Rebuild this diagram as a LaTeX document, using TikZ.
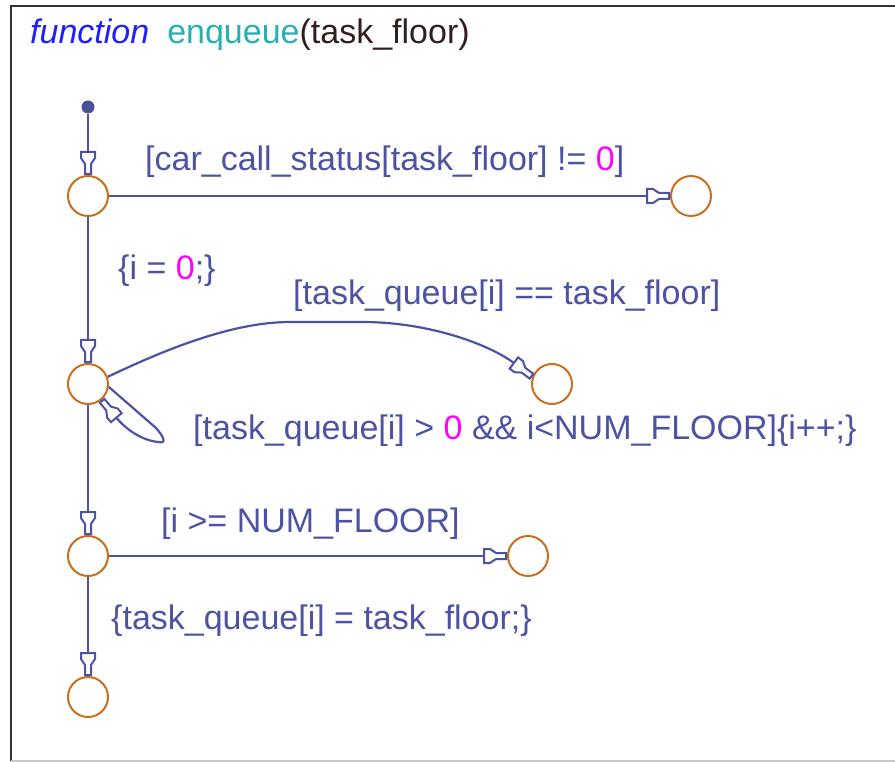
\documentclass[tikz,border=0pt]{standalone}
\usepackage{fontspec}
\setmainfont{Liberation Sans}
\definecolor{lnc}{RGB}{78,82,162}
\definecolor{stc}{RGB}{200,112,32}
\definecolor{mag}{RGB}{255,0,255}
\definecolor{fnc}{RGB}{30,30,255}
\definecolor{enc}{RGB}{40,176,176}
\definecolor{argc}{RGB}{50,30,30}
\definecolor{framec}{RGB}{50,50,50}
\definecolor{dotc}{RGB}{72,80,150}
\pgfdeclarearrow{
  name = Funnel,
  setup code = {
    \pgfarrowssettipend{1pt}
    \pgfarrowssetlineend{-22pt}
    \pgfarrowssetvisualbackend{-23pt}
    \pgfarrowssetbackend{-23pt}
    \pgfarrowshullpoint{1pt}{4pt}
    \pgfarrowshullpoint{1pt}{-4pt}
    \pgfarrowshullpoint{-23pt}{8pt}
    \pgfarrowshullpoint{-23pt}{-8pt}
  },
  drawing code = {
    \pgfsetdash{}{0pt}
    \pgfsetmiterjoin
    \pgfsetlinewidth{2pt}
    \pgfpathmoveto{\pgfpoint{0pt}{3pt}}
    \pgfpathlineto{\pgfpoint{-10pt}{3pt}}
    \pgfpathlineto{\pgfpoint{-16pt}{7pt}}
    \pgfpathlineto{\pgfpoint{-22pt}{7pt}}
    \pgfpathlineto{\pgfpoint{-22pt}{-7pt}}
    \pgfpathlineto{\pgfpoint{-16pt}{-7pt}}
    \pgfpathlineto{\pgfpoint{-10pt}{-3pt}}
    \pgfpathlineto{\pgfpoint{0pt}{-3pt}}
    \pgfpathclose
    \pgfusepathqstroke
  }
}
\tikzset{
  stt/.style={circle, draw=stc, line width=2pt, minimum size=40pt, inner sep=0pt},
  initdot/.style={circle, fill=dotc, minimum size=13pt, inner sep=0pt},
  tr/.style={draw=lnc, line width=2.2pt, -Funnel},
  lbl/.style={text=lnc, font=\fontsize{34}{40}\selectfont, inner sep=0pt, anchor=west},
}
\begin{document}
\begin{tikzpicture}[x=1pt, y=-1pt]
\useasboundingbox (0,0) rectangle (895,762);
% frame
\draw[framec, line width=2.5pt] (11,761) -- (11,6) -- (895,6);
\draw[black!22, line width=1.5pt] (11,761) -- (895,761);
% title
\node[lbl, text=argc] (title) at (30,35) {{\itshape\color{fnc}function}\hspace{18pt}{\color{enc}enqueue}(task\_floor)};
% states
\node[initdot] (I) at (88,107) {};
\node[stt] (A) at (88,196) {};
\node[stt] (B) at (691,196) {};
\node[stt] (C) at (88,384) {};
\node[stt] (D) at (552,384) {};
\node[stt] (E) at (88,556) {};
\node[stt] (F) at (528,556) {};
\node[stt] (G) at (88,697) {};
% transitions
\draw[tr] (I) -- (A);
\draw[tr] (A) -- (B);
\draw[tr] (A) -- (C);
\draw[tr] (C.20) .. controls (160,352) and (230,322) .. (290,322) -- (362,322) .. controls (430,322) and (490,345) .. (D.160);
\draw[tr] (C.-8) -- (156,428) .. controls (164,437) and (167,444) .. (158,442) .. controls (140,440) and (125,428) .. (C.-50);
\draw[tr] (C) -- (E);
\draw[tr] (E) -- (F);
\draw[tr] (E) -- (G);
% labels
\node[lbl] (l1) at (145,162) {[car\_call\_status[task\_floor] != \textcolor{mag}{0}]};
\node[lbl] (l2) at (118,271) {\{i = \textcolor{mag}{0};\}};
\node[lbl] (l3) at (293,296) {[task\_queue[i] == task\_floor]};
\node[lbl] (l4) at (193,431) {[task\_queue[i] > \textcolor{mag}{0} \&\& i<NUM\_FLOOR]\{i++;\}};
\node[lbl] (l5) at (161,524) {[i >= NUM\_FLOOR]};
\node[lbl] (l6) at (111,621) {\{task\_queue[i] = task\_floor;\}};
\end{tikzpicture}
\end{document}
